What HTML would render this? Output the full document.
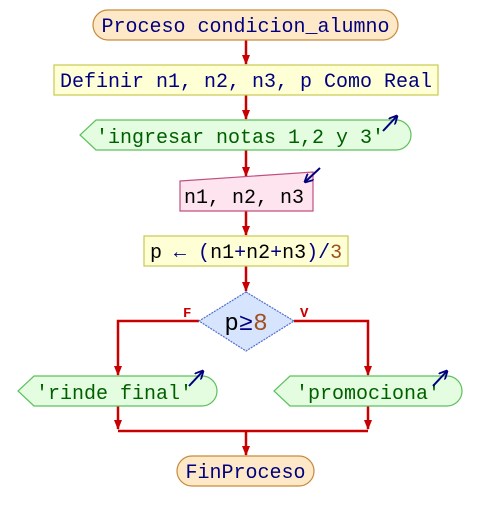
<!DOCTYPE html>
<html><head><meta charset="utf-8"><style>
html,body{margin:0;padding:0;background:#fff;width:480px;height:521px;overflow:hidden}
text{font-family:"Liberation Mono","DejaVu Sans Mono",monospace;font-size:20px}
</style></head><body>
<svg width="480" height="521" viewBox="0 0 480 521" xmlns="http://www.w3.org/2000/svg">
<defs>
<marker id="ah" markerWidth="10" markerHeight="8" refX="9" refY="4" orient="auto" markerUnits="userSpaceOnUse">
<path d="M0,0 L10,4 L0,8 z" fill="#c80000"/></marker>
<marker id="bh" markerWidth="9" markerHeight="9" refX="8" refY="4.5" orient="auto" markerUnits="userSpaceOnUse">
<path d="M0,0 L9,4.5 L0,9" fill="none" stroke="#000080" stroke-width="1.8"/></marker>
</defs>
<g stroke="#c80000" stroke-width="2.5" fill="none">
<line x1="246" y1="40" x2="246" y2="64" marker-end="url(#ah)"/>
<line x1="246" y1="95" x2="246" y2="119" marker-end="url(#ah)"/>
<line x1="246" y1="150" x2="246" y2="176" marker-end="url(#ah)"/>
<line x1="246" y1="211" x2="246" y2="235" marker-end="url(#ah)"/>
<line x1="246" y1="266" x2="246" y2="291" marker-end="url(#ah)"/>
<polyline points="199,321 118,321 118,375" marker-end="url(#ah)"/>
<polyline points="294,321 368,321 368,375" marker-end="url(#ah)"/>
<line x1="118" y1="406" x2="118" y2="429" marker-end="url(#ah)"/>
<line x1="368" y1="406" x2="368" y2="429" marker-end="url(#ah)"/>
<line x1="118" y1="431" x2="368" y2="431"/>
<line x1="246" y1="431" x2="246" y2="455" marker-end="url(#ah)"/>
</g>
<rect x="93" y="10" width="305" height="30" rx="15" fill="#fde9c8" stroke="#c88a3a" stroke-width="1.2"/>
<text x="245.5" y="32" text-anchor="middle" fill="#000080">Proceso condicion_alumno</text>
<rect x="54" y="65" width="384" height="30" fill="#ffffd6" stroke="#c8c850" stroke-width="1.2"/>
<text x="246" y="87" text-anchor="middle" fill="#000080">Definir n1, n2, n3, p Como Real</text>
<path d="M96,120 L396,120 A15,15 0 0 1 396,150 L96,150 L80,135 Z" fill="#e4fde0" stroke="#5cc05c" stroke-width="1.2"/>
<text x="240" y="143" text-anchor="middle" fill="#006000">'ingresar notas 1,2 y 3'</text>
<line x1="383" y1="131" x2="397" y2="116" stroke="#000080" stroke-width="2" marker-end="url(#bh)"/>
<path d="M180,181 L313,172 L313,211 L180,211 Z" fill="#fde4ef" stroke="#c05080" stroke-width="1.2"/>
<text x="244" y="203" text-anchor="middle" fill="#000">n1, n2, n3</text>
<line x1="320" y1="168" x2="305" y2="182" stroke="#000080" stroke-width="2" marker-end="url(#bh)"/>
<rect x="144" y="236" width="204" height="30" fill="#ffffd6" stroke="#c8c850" stroke-width="1.2"/>
<text x="150" y="258" fill="#000">p <tspan fill="#000080">←</tspan> <tspan fill="#000080">(</tspan>n1<tspan fill="#000080">+</tspan>n2<tspan fill="#000080">+</tspan>n3<tspan fill="#000080">)/</tspan><tspan fill="#a05020">3</tspan></text>
<path d="M246,292 L294,321 L246,351 L199,321 Z" fill="#d6e4fd" stroke="#5070d0" stroke-width="1.2" stroke-dasharray="2,1"/>
<text x="246" y="330" text-anchor="middle" fill="#000" style="font-size:24px">p<tspan fill="#000080">≥</tspan><tspan fill="#a05020">8</tspan></text>
<text x="183" y="317" fill="#c80000" style="font-size:14px;font-weight:bold">F</text>
<text x="300" y="317" fill="#c80000" style="font-size:14px;font-weight:bold">V</text>
<path d="M34,376 L202,376 A15,15 0 0 1 202,406 L34,406 L18,391 Z" fill="#e4fde0" stroke="#5cc05c" stroke-width="1.2"/>
<text x="114" y="399" text-anchor="middle" fill="#006000">'rinde final'</text>
<line x1="189" y1="386" x2="203" y2="371" stroke="#000080" stroke-width="2" marker-end="url(#bh)"/>
<path d="M290,376 L447,376 A15,15 0 0 1 447,406 L290,406 L274,391 Z" fill="#e4fde0" stroke="#5cc05c" stroke-width="1.2"/>
<text x="368" y="399" text-anchor="middle" fill="#006000">'promociona'</text>
<line x1="433" y1="386" x2="447" y2="371" stroke="#000080" stroke-width="2" marker-end="url(#bh)"/>
<rect x="177" y="456" width="137" height="30" rx="15" fill="#fde9c8" stroke="#c88a3a" stroke-width="1.2"/>
<text x="245.5" y="478" text-anchor="middle" fill="#000080">FinProceso</text>
</svg>
</body></html>
